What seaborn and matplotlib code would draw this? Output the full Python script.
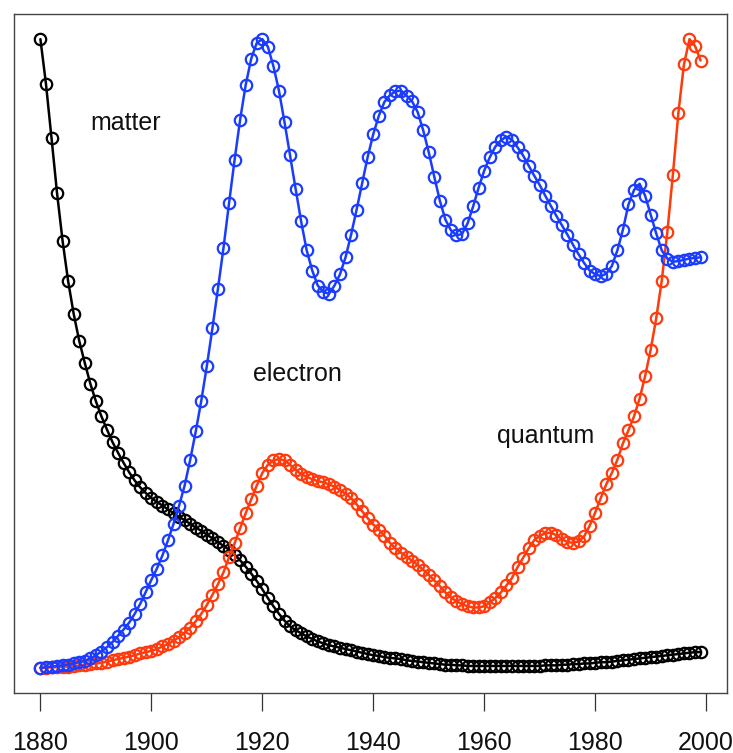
import matplotlib
matplotlib.use("Agg")
import matplotlib.pyplot as plt
import numpy as np
import pandas as pd
import seaborn as sns

# Relative yearly frequency of three words, each scaled to its own maximum
years = list(range(1880, 2000))

matter = [
    1.000, 0.929, 0.843, 0.755, 0.679, 0.615, 0.563, 0.520, 0.485, 0.452,
    0.424, 0.400, 0.379, 0.359, 0.342, 0.326, 0.311, 0.298, 0.287, 0.278,
    0.270, 0.264, 0.258, 0.252, 0.246, 0.240, 0.235, 0.229, 0.223, 0.218,
    0.212, 0.206, 0.200, 0.194, 0.188, 0.180, 0.171, 0.161, 0.150, 0.138,
    0.125, 0.111, 0.098, 0.086, 0.075, 0.066, 0.060, 0.055, 0.050, 0.046,
    0.042, 0.039, 0.036, 0.034, 0.032, 0.030, 0.028, 0.026, 0.024, 0.022,
    0.020, 0.019, 0.017, 0.016, 0.015, 0.014, 0.012, 0.011, 0.010, 0.009,
    0.008, 0.007, 0.006, 0.005, 0.005, 0.004, 0.004, 0.003, 0.003, 0.003,
    0.003, 0.003, 0.003, 0.003, 0.003, 0.003, 0.003, 0.003, 0.003, 0.003,
    0.003, 0.004, 0.004, 0.004, 0.005, 0.005, 0.006, 0.006, 0.007, 0.007,
    0.008, 0.009, 0.009, 0.010, 0.011, 0.012, 0.013, 0.014, 0.015, 0.016,
    0.017, 0.018, 0.019, 0.020, 0.021, 0.022, 0.023, 0.024, 0.025, 0.025,
]

electron = [
    0.000, 0.001, 0.002, 0.003, 0.004, 0.005, 0.007, 0.009, 0.011, 0.015,
    0.020, 0.026, 0.033, 0.041, 0.051, 0.061, 0.072, 0.086, 0.102, 0.121,
    0.140, 0.158, 0.179, 0.203, 0.229, 0.258, 0.290, 0.331, 0.376, 0.425,
    0.480, 0.540, 0.603, 0.668, 0.739, 0.808, 0.872, 0.927, 0.969, 0.994,
    1.000, 0.988, 0.957, 0.918, 0.868, 0.815, 0.762, 0.710, 0.664, 0.632,
    0.608, 0.598, 0.595, 0.608, 0.626, 0.653, 0.689, 0.729, 0.771, 0.813,
    0.849, 0.878, 0.900, 0.911, 0.917, 0.918, 0.910, 0.901, 0.884, 0.855,
    0.820, 0.781, 0.743, 0.713, 0.696, 0.688, 0.690, 0.707, 0.734, 0.764,
    0.791, 0.812, 0.829, 0.839, 0.845, 0.840, 0.828, 0.815, 0.799, 0.783,
    0.768, 0.751, 0.735, 0.719, 0.704, 0.689, 0.673, 0.658, 0.644, 0.632,
    0.626, 0.623, 0.627, 0.639, 0.664, 0.697, 0.737, 0.760, 0.770, 0.751,
    0.721, 0.691, 0.664, 0.651, 0.646, 0.647, 0.649, 0.651, 0.652, 0.653,
]

quantum = [
    0.000, 0.000, 0.001, 0.001, 0.002, 0.002, 0.003, 0.004, 0.005, 0.006,
    0.007, 0.008, 0.010, 0.012, 0.014, 0.016, 0.018, 0.020, 0.023, 0.025,
    0.027, 0.030, 0.034, 0.038, 0.043, 0.049, 0.056, 0.064, 0.074, 0.086,
    0.100, 0.116, 0.133, 0.152, 0.176, 0.198, 0.222, 0.246, 0.268, 0.290,
    0.310, 0.323, 0.330, 0.332, 0.330, 0.323, 0.315, 0.308, 0.304, 0.300,
    0.297, 0.295, 0.292, 0.288, 0.283, 0.277, 0.270, 0.260, 0.249, 0.238,
    0.228, 0.220, 0.210, 0.199, 0.190, 0.183, 0.177, 0.170, 0.164, 0.156,
    0.148, 0.139, 0.130, 0.120, 0.112, 0.106, 0.101, 0.098, 0.096, 0.096,
    0.098, 0.104, 0.111, 0.120, 0.131, 0.143, 0.160, 0.175, 0.190, 0.203,
    0.210, 0.214, 0.215, 0.211, 0.205, 0.200, 0.199, 0.201, 0.209, 0.226,
    0.247, 0.270, 0.292, 0.310, 0.331, 0.357, 0.378, 0.400, 0.428, 0.464,
    0.506, 0.556, 0.616, 0.693, 0.784, 0.883, 0.960, 1.000, 0.989, 0.966,
]

words = ["matter", "quantum", "electron"]
colors = {"matter": "#000000", "quantum": "#ff3a0c", "electron": "#1a3cff"}
series = {"matter": matter, "quantum": quantum, "electron": electron}

# label anchor points (year, scaled frequency)
label_pos = {"matter": (1895.3, 0.856), "electron": (1926.3, 0.456),
             "quantum": (1971.0, 0.357)}

sns.set_style("white")
plt.rcParams["font.family"] = ["Liberation Sans", "DejaVu Sans"]

fig = plt.figure(figsize=(7.33, 7.53), dpi=100)
ax = fig.add_axes([14 / 733, 60 / 753, 713 / 733, 679 / 753])

for w in words:
    df = pd.DataFrame({"year": years, "freq": series[w]})
    sns.lineplot(data=df, x="year", y="freq", ax=ax, color=colors[w],
                 linewidth=1.8, marker="o", markersize=8.2,
                 markerfacecolor="none", markeredgecolor=colors[w],
                 markeredgewidth=1.6, errorbar=None, sort=True)

for w, (lx, ly) in label_pos.items():
    ax.text(lx, ly, w, ha="center", va="baseline", fontsize=18, color="#111111")

span = years[-1] - years[0]
ax.set_xlim(years[0] - 0.04 * span, years[-1] + 0.04 * span)
ax.set_ylim(-0.04, 1.04)
ax.set_xticks([1880, 1900, 1920, 1940, 1960, 1980, 2000])
ax.set_yticks([])
ax.set_xlabel("")
ax.set_ylabel("")
ax.tick_params(axis="x", direction="out", length=13, width=0.9,
               color="#333333", pad=14, labelsize=18, labelcolor="#111111",
               bottom=True)
for s in ax.spines.values():
    s.set_visible(True)
    s.set_color("#444444")
    s.set_linewidth(1.0)

fig.savefig("out.png", dpi=100)
